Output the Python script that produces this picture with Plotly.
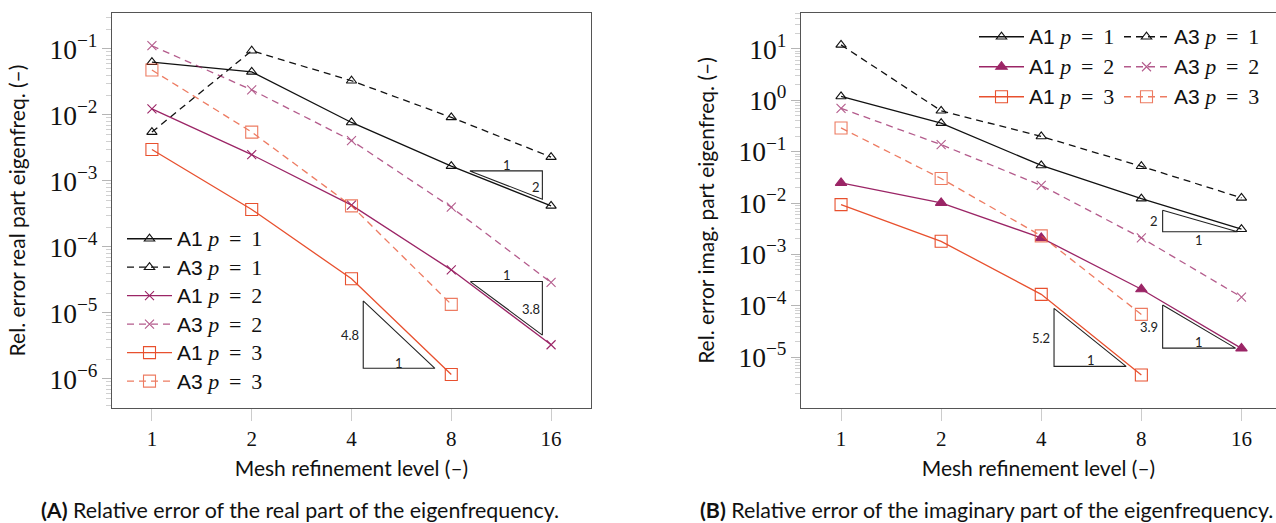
import numpy as np
import plotly.graph_objects as go

# ---------------- data ----------------
levels = [1, 2, 4, 8, 16]
levels_p3 = [1, 2, 4, 8]
tick_text = ["1", "2", "4", "8", "16"]

# (A) real part
re_A1_p1 = [0.063, 0.045, 0.0077, 0.00168, 0.00042]
re_A3_p1 = [0.0055, 0.094, 0.033, 0.0092, 0.0023]
re_A1_p2 = [0.0124, 0.0025, 0.00043, 4.5e-5, 3.3e-6]
re_A3_p2 = [0.112, 0.024, 0.0041, 0.00040, 2.9e-5]
re_A1_p3 = [0.0030, 0.00037, 3.3e-5, 1.17e-6]
re_A3_p3 = [0.048, 0.0055, 0.00042, 1.35e-5]

# (B) imaginary part
im_A1_p1 = [1.19, 0.36, 0.054, 0.0122, 0.0031]
im_A3_p1 = [12.0, 0.625, 0.198, 0.052, 0.0126]
im_A1_p2 = [0.0247, 0.0101, 0.0021, 2.1e-4, 1.48e-5]
im_A3_p2 = [0.70, 0.137, 0.022, 0.0021, 1.48e-4]
im_A1_p3 = [0.0093, 0.0018, 1.67e-4, 4.5e-6]
im_A3_p3 = [0.29, 0.030, 0.0023, 6.8e-5]

# slope triangles: corner x values, corner y values, labels (text, x, y, anchor)
tri_re = [
    dict(x=[9.1, 15.06, 15.06, 9.1], y=[1.42e-3, 1.42e-3, 5.3e-4, 1.42e-3],
         labels=[("1", 11.8, 1.77e-3, "center"), ("2", 14.45, 8.2e-4, "center")]),
    dict(x=[9.13, 15.06, 15.06, 9.13], y=[2.99e-5, 2.99e-5, 4.62e-6, 2.99e-5],
         labels=[("1", 11.8, 3.77e-5, "center"), ("3.8", 13.96, 1.14e-5, "center")]),
    dict(x=[4.34, 4.34, 7.14, 4.34], y=[1.52e-5, 1.45e-6, 1.45e-6, 1.52e-5],
         labels=[("4.8", 4.27, 4.62e-6, "right"), ("1", 5.58, 1.75e-6, "center")]),
]
tri_im = [
    dict(x=[9.27, 9.27, 15.56, 9.27], y=[7.24e-3, 2.76e-3, 2.76e-3, 7.24e-3],
         labels=[("2", 9.1, 4.44e-3, "right"), ("1", 11.92, 1.9e-3, "center")]),
    dict(x=[4.37, 4.37, 7.2, 4.37], y=[8.93e-5, 6.6e-6, 6.6e-6, 8.93e-5],
         labels=[("5.2", 4.3, 2.34e-5, "right"), ("1", 5.63, 8.87e-6, "center")]),
    dict(x=[9.27, 9.27, 15.36, 9.27], y=[1.04e-4, 1.5e-5, 1.5e-5, 1.04e-4],
         labels=[("3.9", 9.1, 3.78e-5, "right"), ("1", 11.92, 1.93e-5, "center")]),
]

# ---------------- styles ----------------
BLACK = "#111111"
PURPLE = "#9b2566"
ORANGE = "#e8502e"
SANS = "Lato"
LEGSANS = "Liberation Sans"
SERIF = "Liberation Serif"
DASH = "7px,5px"
W, H = 1276, 523


def name(a, p):
    return (f"<span style='font-size:21px'>{a}</span> "
            f"<span style='font-family:{SERIF};font-size:22px'><i>p</i>\u2009 = \u2009{p}</span>")


fig = go.Figure()


def add(xv, yv, nm, color, dash, symbol, size, xa, ya, legend, opacity=1.0):
    fig.add_trace(go.Scatter(
        x=xv, y=yv, name=nm, mode="lines+markers",
        line=dict(color=color, width=1.3, dash=dash),
        marker=dict(symbol=symbol, size=size, color=color,
                    line=dict(color=color, width=1.1)),
        opacity=opacity, xaxis=xa, yaxis=ya, legend=legend,
        legendgroup=nm + xa, hoverinfo="skip"))


# panel A
add(levels, re_A1_p1, name("A1", 1), BLACK, "solid", "triangle-up-open", 9, "x", "y", "legend")
add(levels, re_A3_p1, name("A3", 1), BLACK, DASH, "triangle-up-open", 9, "x", "y", "legend")
add(levels, re_A1_p2, name("A1", 2), PURPLE, "solid", "x-thin-open", 9, "x", "y", "legend")
add(levels, re_A3_p2, name("A3", 2), PURPLE, DASH, "x-thin-open", 9, "x", "y", "legend", 0.75)
add(levels_p3, re_A1_p3, name("A1", 3), ORANGE, "solid", "square-open", 12, "x", "y", "legend")
add(levels_p3, re_A3_p3, name("A3", 3), ORANGE, DASH, "square-open", 12, "x", "y", "legend", 0.75)

# panel B (three horizontal legends = three rows of two columns)
add(levels, im_A1_p1, name("A1", 1), BLACK, "solid", "triangle-up-open", 9, "x2", "y2", "legend2")
add(levels, im_A3_p1, name("A3", 1), BLACK, DASH, "triangle-up-open", 9, "x2", "y2", "legend2")
add(levels, im_A1_p2, name("A1", 2), PURPLE, "solid", "triangle-up", 10, "x2", "y2", "legend3")
add(levels, im_A3_p2, name("A3", 2), PURPLE, DASH, "x-thin-open", 9, "x2", "y2", "legend3", 0.75)
add(levels_p3, im_A1_p3, name("A1", 3), ORANGE, "solid", "square-open", 12, "x2", "y2", "legend4")
add(levels_p3, im_A3_p3, name("A3", 3), ORANGE, DASH, "square-open", 12, "x2", "y2", "legend4", 0.75)

annotations = []
for tris, xa, ya in ((tri_re, "x", "y"), (tri_im, "x2", "y2")):
    for t in tris:
        fig.add_trace(go.Scatter(x=t["x"], y=t["y"], mode="lines",
                                 line=dict(color="#222222", width=1.1),
                                 showlegend=False, hoverinfo="skip",
                                 xaxis=xa, yaxis=ya))
        for txt, lx, ly, anc in t["labels"]:
            annotations.append(dict(
                text=txt, x=np.log10(lx), y=np.log10(ly), xref=xa, yref=ya,
                xanchor=anc, yanchor="middle", showarrow=False,
                font=dict(family=SANS, size=13, color="#222222")))

annotations += [
    dict(text="<b>(A)</b> Relative error of the real part of the eigenfrequency.",
         x=300 / W, y=1 - 510 / H, xref="paper", yref="paper", xanchor="center",
         yanchor="middle", showarrow=False, font=dict(family=SANS, size=21.4, color="#111")),
    dict(text="<b>(B)</b> Relative error of the imaginary part of the eigenfrequency.",
         x=986 / W, y=1 - 510 / H, xref="paper", yref="paper", xanchor="center",
         yanchor="middle", showarrow=False, font=dict(family=SANS, size=21.4, color="#111")),
]

oct2 = np.log10(2)
xcommon = dict(type="log", tickvals=levels, ticktext=tick_text, ticks="outside",
               ticklen=12, tickcolor="#cccccc", tickwidth=1,
               showline=True, linecolor="#555555", linewidth=1.3, mirror=True,
               showgrid=False, zeroline=False,
               tickfont=dict(family=SERIF, size=21, color="#111"),
               title=dict(text="Mesh refinement level (–)",
                          font=dict(family=SANS, size=21, color="#111"), standoff=10))
ycommon = dict(type="log", dtick=1, exponentformat="power", ticks="outside",
               ticklen=9, tickcolor="#b5b5b5", tickwidth=1,
               minor=dict(ticks="outside", ticklen=5, tickcolor="#d0d0d0", dtick="D1",
                          showgrid=False),
               showline=True, linecolor="#555555", linewidth=1.3,
               showgrid=False, zeroline=False,
               tickfont=dict(family=SERIF, size=22, color="#111"))

ydom = [1 - 408 / H, 1 - 13 / H]
fig.update_layout(
    width=W, height=H, margin=dict(l=0, r=0, t=0, b=0),
    paper_bgcolor="white", plot_bgcolor="white",
    xaxis=dict(xcommon, domain=[112 / W, 591 / W], range=[-0.4 * oct2, 4.4 * oct2]),
    yaxis=dict(ycommon, domain=ydom, range=[-6.44, -0.455], mirror=True,
               title=dict(text="Rel. error real part eigenfreq. (–)",
                          font=dict(family=SANS, size=21, color="#111"), standoff=18)),
    xaxis2=dict(xcommon, domain=[801 / W, 1.0], range=[-0.4 * oct2, 4.345 * oct2]),
    yaxis2=dict(ycommon, domain=ydom, range=[-5.99, 1.70], anchor="x2", mirror=False,
                labelalias={"10": "10<sup>1</sup>", "1": "10<sup>0</sup>"},
                title=dict(text="Rel. error imag. part eigenfreq. (–)",
                           font=dict(family=SANS, size=21, color="#111"), standoff=18)),
    annotations=annotations,
    legend=dict(x=122 / W, y=1 - 219.5 / H, xanchor="left", yanchor="top",
                bgcolor="rgba(255,255,255,0)", borderwidth=0, tracegroupgap=0,
                itemwidth=45,
                font=dict(family=LEGSANS, size=19.6, color="#111")),
)
for i, yc in zip((2, 3, 4), (37, 67, 97)):
    fig.update_layout({f"legend{i}": dict(
        x=974 / W, y=1 - yc / H, xanchor="left", yanchor="middle", orientation="h",
        entrywidth=85, entrywidthmode="pixels", itemwidth=45,
        bgcolor="rgba(255,255,255,0)", borderwidth=0,
        font=dict(family=LEGSANS, size=19.6, color="#111"))})
fig.layout.xaxis2.anchor = "y2"

fig.write_html("out.html")
